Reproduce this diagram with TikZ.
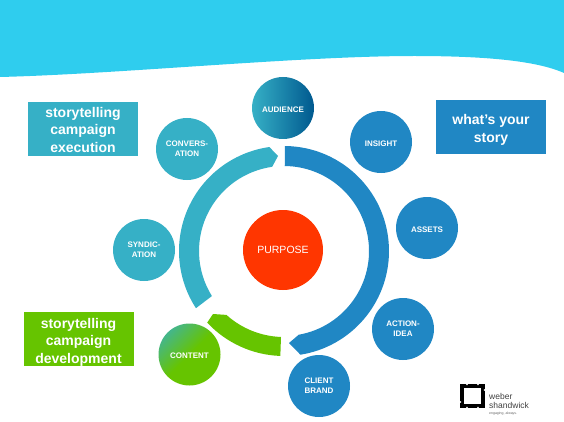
\documentclass[tikz,border=0pt]{standalone}
\usepackage{fontspec}
\setmainfont{Liberation Sans}
\usepackage{xcolor}
\definecolor{bandcyan}{HTML}{2FCDEE}
\definecolor{ringblue}{HTML}{2087C4}
\definecolor{ringteal}{HTML}{36B0C6}
\definecolor{ringgreen}{HTML}{66C400}
\definecolor{purposered}{HTML}{FF3600}
\definecolor{deepblue}{HTML}{00598F}
\tikzset{
  topic/.style={circle,minimum size=62pt,inner sep=0pt,align=center,text=white,
    execute at begin node=\rule{0pt}{9pt},
    font=\fontsize{8}{10}\selectfont\bfseries},
  tagbox/.style={minimum width=110pt,minimum height=54pt,inner sep=0pt,align=center,text=white,
    font=\fontsize{14}{17.5}\selectfont\bfseries},
}
\begin{document}
\begin{tikzpicture}[x=1pt,y=1pt]
    \useasboundingbox (0,0) rectangle (564,-422);
    % top band
    \fill[bandcyan] (0,0) -- (564,0) -- (564,-73) .. controls (535,-60) and (480,-56) .. (414,-56)
      .. controls (300,-56) and (120,-74) .. (0,-77) -- cycle;
    % ring
    \begin{scope}[shift={(284,-251)}]
      \fill[ringblue] (89.5:105) arc[start angle=89.5,end angle=-81,radius=105] -- (5,-92)
        -- (-80:85) arc[start angle=-80,end angle=89.5,radius=85] -- cycle;
      \fill[ringteal] (98:105) arc[start angle=98,end angle=213,radius=105]
        -- (212:85) arc[start angle=212,end angle=98,radius=85] -- (-6,95) -- cycle;
      \fill[ringgreen] (223:105) arc[start angle=223,end angle=268,radius=105]
        -- (268:86) arc[start angle=268,end angle=228,radius=86] -- (-71,-63) -- cycle;
    \end{scope}
    \node[circle,minimum size=80pt,inner sep=0pt,fill=purposered,text=white,
      font=\fontsize{10.5}{14}\selectfont] (purpose) at (283,-250) {PURPOSE};
    % circles
    \node[topic,left color=ringteal,right color=deepblue] (audience) at (283,-108) {AUDIENCE};
    \node[topic,fill=ringblue] (insight) at (381,-142) {INSIGHT};
    \node[topic,fill=ringblue] (assets) at (427,-228) {ASSETS};
    \node[topic,fill=ringblue] (action) at (403,-329) {ACTION-\\IDEA};
    \node[topic,fill=ringblue] (client) at (319,-386) {CLIENT\\BRAND};
    \node[topic,top color=ringteal!70!ringgreen,bottom color=ringgreen,middle color=ringgreen,shading angle=45] (content) at (189.5,-354.5) {CONTENT};
    \node[topic,fill=ringteal] (syndication) at (144,-250) {SYNDIC-\\ATION};
    \node[topic,fill=ringteal] (conversation) at (187,-149) {CONVERS-\\ATION};
    % tags
    \node[tagbox,fill=ringteal] (execution) at (83,-129) {\rule{0pt}{12pt}storytelling\\campaign\\execution};
    \node[tagbox,fill=ringblue] (story) at (491,-127) {\rule{0pt}{16pt}what’s your\\story};
    \node[tagbox,fill=ringgreen] (development) at (78.5,-339) {\rule{0pt}{16pt}storytelling\\campaign\\development};
    % logo
    \draw[black,line width=4.2pt] (462.1,-386.1) rectangle (482.9,-405.9);
    \foreach \notch in {(467,-384.5),(478,-384.5),(467,-407.5),(478,-407.5),(484.5,-390),(460.5,-402)}
      \fill[white] \notch circle (0.8);
    \node[anchor=west,inner sep=0pt,align=left,text=black!75,
      font=\fontsize{8.5}{8.5}\selectfont] (logotext) at (489,-401) {weber\\shandwick};
    \node[anchor=west,inner sep=0pt,text=black!60,font=\fontsize{3.5}{4}\selectfont] (logotag) at (489,-414) {engaging, always.};
  \end{tikzpicture}
\end{document}
